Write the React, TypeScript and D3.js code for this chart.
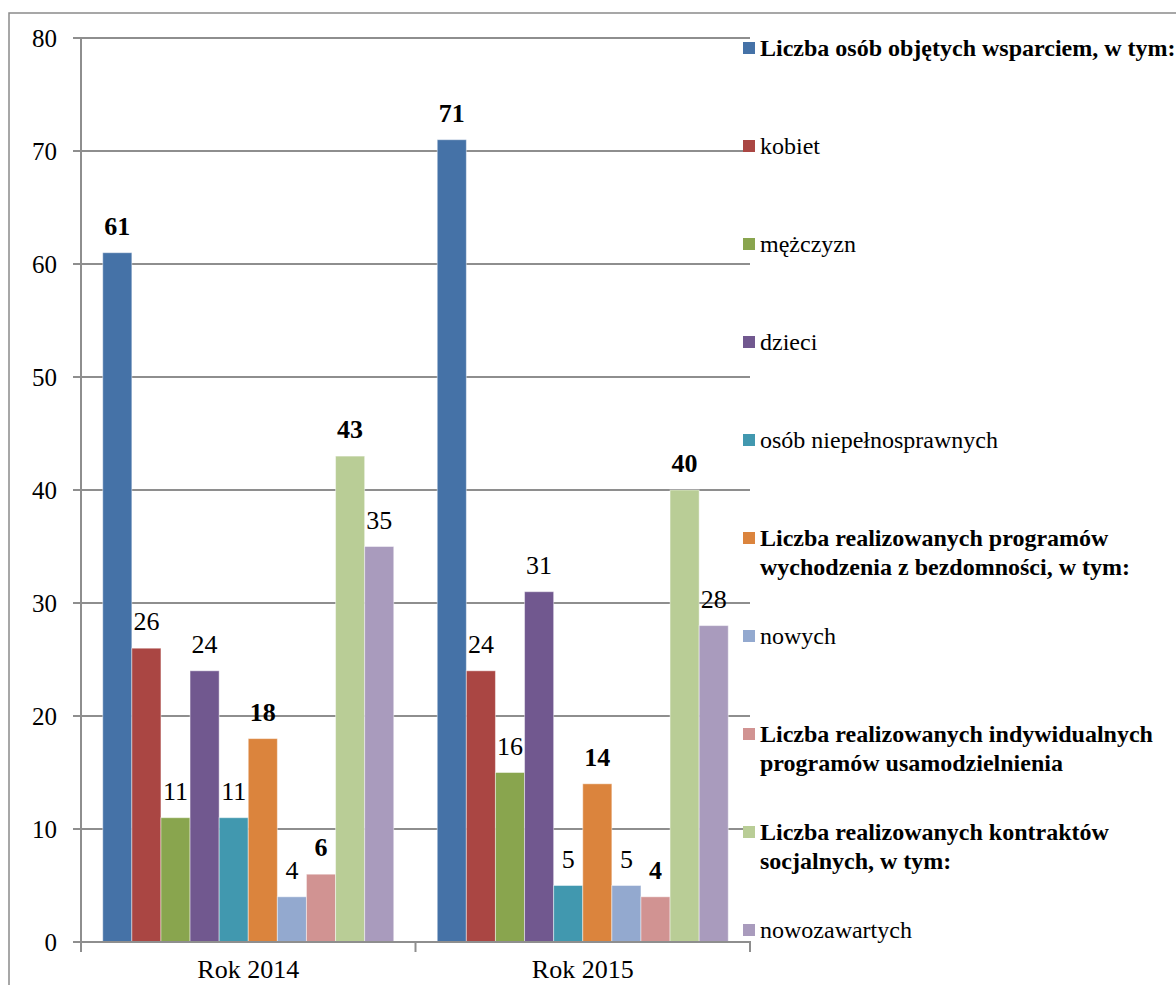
import React from 'react';
import * as d3 from 'd3';

const categories = ['Rok 2014', 'Rok 2015'];
const seriesNames = [
  'Liczba osób objętych wsparciem, w tym:',
  'kobiet',
  'mężczyzn',
  'dzieci',
  'osób niepełnosprawnych',
  'Liczba realizowanych programów wychodzenia z bezdomności, w tym:',
  'nowych',
  'Liczba realizowanych indywidualnych programów usamodzielnienia',
  'Liczba realizowanych kontraktów socjalnych, w tym:',
  'nowozawartych',
];
const legendLines = [
  ['Liczba osób objętych wsparciem, w tym:'],
  ['kobiet'],
  ['mężczyzn'],
  ['dzieci'],
  ['osób niepełnosprawnych'],
  ['Liczba realizowanych programów', 'wychodzenia z bezdomności, w tym:'],
  ['nowych'],
  ['Liczba realizowanych indywidualnych', 'programów usamodzielnienia'],
  ['Liczba realizowanych kontraktów', 'socjalnych, w tym:'],
  ['nowozawartych'],
];
const boldSeries = [true, false, false, false, false, true, false, true, true, false];
const colors = ['#4572A7', '#AA4643', '#89A54E', '#71588F', '#4198AF', '#DB843D', '#93A9CF', '#D19392', '#B9CD96', '#A99BBD'];
const values2014 = [61, 26, 11, 24, 11, 18, 4, 6, 43, 35];
const values2015 = [71, 24, 15, 31, 5, 14, 5, 4, 40, 28];
const labels2014 = ['61', '26', '11', '24', '11', '18', '4', '6', '43', '35'];
const labels2015 = ['71', '24', '16', '31', '5', '14', '5', '4', '40', '28'];
const yTicks = [0, 10, 20, 30, 40, 50, 60, 70, 80];

const W = 1176;
const H = 985;
const FONT = '"Liberation Serif", "Times New Roman", serif';
const GRID = '#8E8E8E';

export default function App() {
  const y = d3.scaleLinear().domain([0, 80]).range([942, 38]);
  const x0 = d3.scaleBand<string>().domain(categories).range([81, 750]).paddingInner(0.13).paddingOuter(0.065);
  const x1 = d3.scaleBand<string>().domain(seriesNames).range([0, x0.bandwidth()]).padding(0);
  const valuesByCat = [values2014, values2015];
  const labelsByCat = [labels2014, labels2015];
  const catTicks = [81, ...categories.map((c) => (x0(c) as number) + x0.bandwidth() + (x0.step() - x0.bandwidth()) / 2)];

  return (
    <svg width={W} height={H} style={{ position: 'absolute', left: 0, top: 0, background: '#fff' }} fontFamily={FONT}>
      <rect x={9} y={13} width={W + 20} height={H + 20} fill="#fff" stroke="#8A8A8A" strokeWidth={1.5} />
      {yTicks.map((t) => (
        <g key={t}>
          <line x1={73} x2={750} y1={y(t)} y2={y(t)} stroke={GRID} strokeWidth={2} />
          <text x={57} y={y(t)} dy="0.34em" textAnchor="end" fontSize={25} fill="#000">{t}</text>
        </g>
      ))}
      {categories.map((c, ci) => (
        <g key={c} transform={`translate(${x0(c)},0)`}>
          {seriesNames.map((s, si) => {
            const v = valuesByCat[ci][si];
            const bx = x1(s) as number;
            return (
              <g key={s}>
                <rect x={bx} y={y(v)} width={x1.bandwidth()} height={y(0) - y(v)} fill={colors[si]} stroke="#ffffff" strokeOpacity={0.45} strokeWidth={1} />
                <text x={bx + x1.bandwidth() / 2} y={y(v) - 18} textAnchor="middle" fontSize={26} fontWeight={boldSeries[si] ? 'bold' : 'normal'} fill="#000">
                  {labelsByCat[ci][si]}
                </text>
              </g>
            );
          })}
        </g>
      ))}
      <line x1={81} x2={81} y1={y(80)} y2={y(0)} stroke={GRID} strokeWidth={2} />
      <line x1={73} x2={751} y1={y(0)} y2={y(0)} stroke={GRID} strokeWidth={2} />
      {catTicks.map((t, i) => (
        <line key={i} x1={t} x2={t} y1={y(0)} y2={y(0) + 10} stroke={GRID} strokeWidth={2} />
      ))}
      {categories.map((c) => (
        <text key={c} x={(x0(c) as number) + x0.bandwidth() / 2} y={978} textAnchor="middle" fontSize={26} fill="#000">{c}</text>
      ))}
      {legendLines.map((lines, i) => {
        const cy = 48 + i * 98;
        return (
          <g key={i}>
            <rect x={743} y={cy - 6} width={12} height={12} fill={colors[i]} />
            {lines.map((ln, li) => (
              <text key={li} x={760} y={cy + li * 29} dy="0.33em" fontSize={24} fontWeight={boldSeries[i] ? 'bold' : 'normal'} fill="#000">{ln}</text>
            ))}
          </g>
        );
      })}
    </svg>
  );
}
